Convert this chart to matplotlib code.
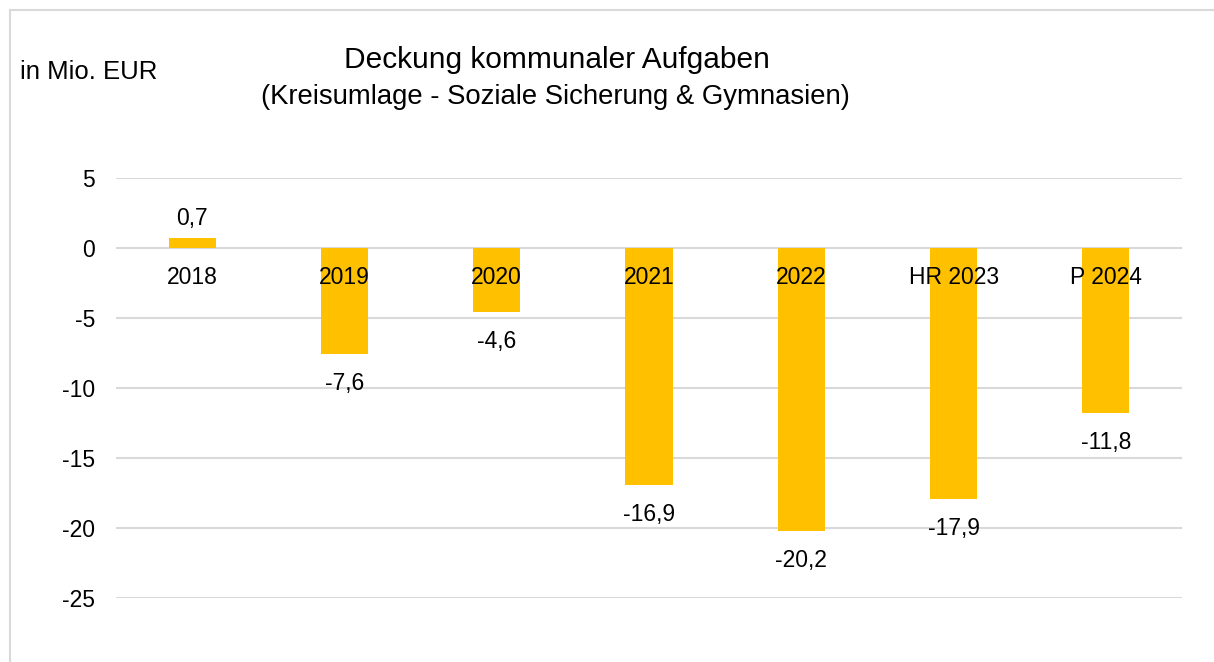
import matplotlib.pyplot as plt
from matplotlib.patches import Rectangle

plt.rcParams["font.family"] = ["Liberation Sans", "DejaVu Sans"]

categories = ["2018", "2019", "2020", "2021", "2022", "HR 2023", "P 2024"]
values = [0.7, -7.6, -4.6, -16.9, -20.2, -17.9, -11.8]
y_ticks = [5, 0, -5, -10, -15, -20, -25]

BAR = "#FFC000"
GRID = "#D9D9D9"

fig = plt.figure(figsize=(12.14, 6.62), dpi=100)
ax = fig.add_axes([116 / 1214, 1 - 598 / 662, 1066 / 1214, 420 / 662])

x = list(range(len(categories)))
ax.bar(x, values, width=0.31, color=BAR, zorder=2)

ax.set_xlim(-0.5, len(categories) - 0.5)
ax.set_ylim(-25, 5)
ax.set_yticks(y_ticks)
ax.set_yticklabels([str(v) for v in y_ticks], fontsize=16.5)
ax.yaxis.grid(True, color=GRID, linewidth=1.5)
ax.set_axisbelow(True)
ax.tick_params(axis="y", length=0, pad=15)
ax.set_xticks([])
for side in ["top", "right", "left", "bottom"]:
    ax.spines[side].set_visible(False)

# category labels just below the zero line, drawn over the bars
for xi, cat in zip(x, categories):
    ax.annotate(cat, (xi, 0), xytext=(0, -13), textcoords="offset points",
                ha="center", va="top", fontsize=16.5, zorder=5)

for xi, v in zip(x, values):
    txt = f"{v:.1f}".replace(".", ",")
    off = 6 if v >= 0 else -13
    va = "bottom" if v >= 0 else "top"
    ax.annotate(txt, (xi, v), xytext=(0, off), textcoords="offset points",
                ha="center", va=va, fontsize=16.5, zorder=5)

fig.text(557 / 1214, 1 - 60 / 662, "Deckung kommunaler Aufgaben",
         ha="center", va="center", fontsize=21.5)
fig.text(555 / 1214, 1 - 97 / 662, "(Kreisumlage - Soziale Sicherung & Gymnasien)",
         ha="center", va="center", fontsize=19.8)
fig.text(20 / 1214, 1 - 72 / 662, "in Mio. EUR", ha="left", va="center", fontsize=18.5)

fig.patches.append(Rectangle((10 / 1214, -0.1), 1.2, 1 - 10 / 662 + 0.1,
                             transform=fig.transFigure, fill=False,
                             edgecolor=GRID, linewidth=1.5))

fig.savefig("out.png", dpi=100)
plt.close(fig)
